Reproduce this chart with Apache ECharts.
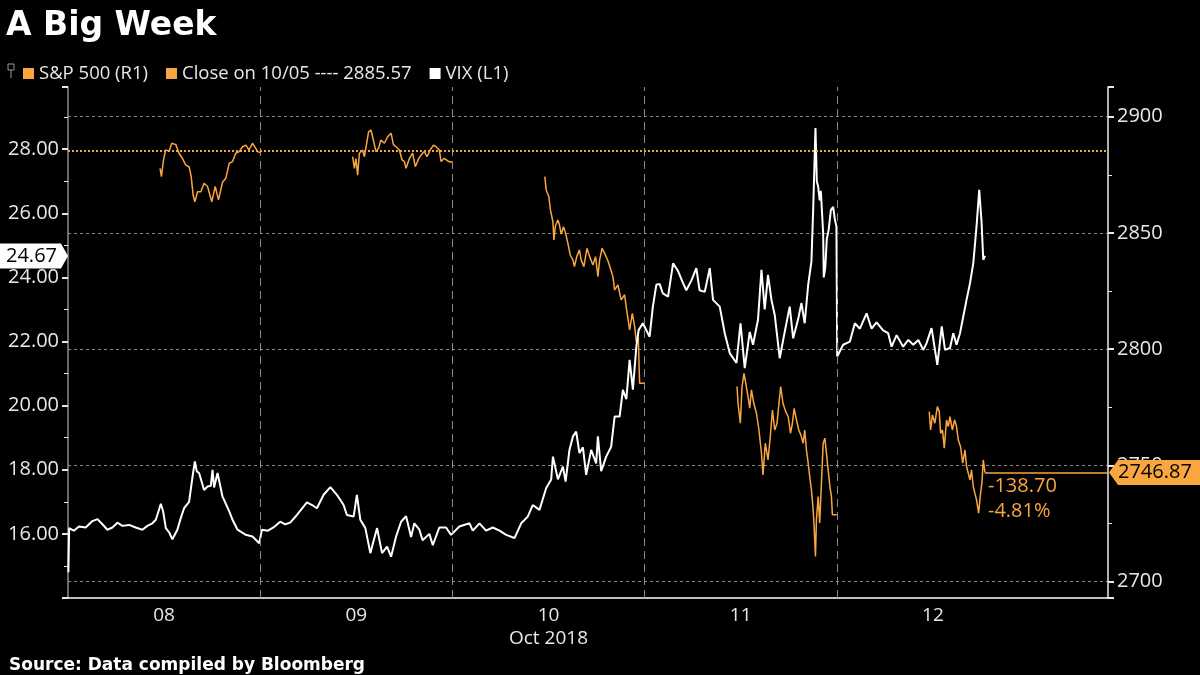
<!DOCTYPE html>
<html><head><meta charset="utf-8">
<script src="https://cdn.jsdelivr.net/npm/echarts@6/dist/echarts.min.js"></script>
<style>html,body{margin:0;padding:0;background:#000;}#c{width:1200px;height:675px;}</style>
</head><body><div id="c"></div>
<script>
// ---- categories / labels ----
const DAY_LABELS = ['08', '09', '10', '11', '12'];
const MONTH_LABEL = 'Oct 2018';
const CLOSE_1005 = 2885.57;

// ---- VIX (left axis), [fraction of day, value] ----
const vix08 = [[0.002,14.8],[0.006,16.18],[0.030,16.1],[0.057,16.23],[0.092,16.2],[0.127,16.40],[0.153,16.46],[0.179,16.3],[0.205,16.13],[0.231,16.2],[0.257,16.35],[0.283,16.25],[0.318,16.28],[0.352,16.2],[0.387,16.13],[0.413,16.25],[0.439,16.33],[0.457,16.44],[0.483,16.94],[0.495,16.7],[0.509,16.18],[0.526,16.05],[0.543,15.83],[0.569,16.13],[0.587,16.5],[0.604,16.8],[0.630,17.0],[0.648,17.79],[0.660,18.26],[0.670,17.95],[0.682,17.9],[0.708,17.37],[0.726,17.48],[0.743,17.5],[0.752,18.0],[0.760,17.45],[0.778,17.9],[0.804,17.16],[0.839,16.7],[0.856,16.44],[0.882,16.13],[0.925,15.97],[0.960,15.92],[0.995,15.71]];
const vix09 = [[0.009,16.13],[0.040,16.1],[0.069,16.2],[0.104,16.38],[0.130,16.3],[0.156,16.35],[0.191,16.59],[0.243,16.98],[0.270,16.9],[0.295,16.8],[0.330,17.22],[0.365,17.46],[0.399,17.22],[0.434,16.9],[0.451,16.59],[0.486,16.54],[0.503,17.22],[0.521,16.44],[0.547,16.18],[0.573,15.4],[0.608,16.18],[0.634,15.4],[0.660,15.6],[0.681,15.29],[0.707,15.92],[0.733,16.38],[0.759,16.55],[0.785,15.9],[0.802,16.33],[0.828,16.13],[0.845,15.8],[0.880,16.0],[0.898,15.65],[0.932,16.2],[0.967,16.2],[0.993,15.97]];
const vix10 = [[0.002,16.0],[0.036,16.23],[0.089,16.33],[0.106,16.1],[0.141,16.33],[0.175,16.1],[0.210,16.2],[0.245,16.1],[0.280,15.97],[0.323,15.87],[0.358,16.33],[0.392,16.54],[0.418,16.9],[0.453,16.75],[0.488,17.43],[0.514,17.7],[0.523,18.41],[0.549,17.7],[0.575,18.1],[0.589,17.63],[0.609,18.62],[0.627,19.04],[0.644,19.19],[0.661,18.52],[0.679,18.7],[0.696,17.84],[0.722,18.62],[0.748,18.2],[0.757,19.04],[0.774,17.96],[0.800,18.41],[0.826,18.72],[0.844,19.66],[0.870,19.66],[0.887,20.49],[0.905,20.2],[0.922,21.43],[0.939,20.5],[0.957,21.84],[0.969,22.36],[0.991,22.57]];
const vix11 = [[0.000,22.57],[0.026,22.15],[0.043,23.09],[0.061,23.77],[0.078,23.8],[0.095,23.5],[0.122,23.4],[0.148,24.44],[0.174,24.2],[0.200,23.82],[0.217,23.6],[0.243,23.9],[0.269,24.29],[0.286,23.6],[0.313,23.55],[0.339,24.29],[0.356,23.3],[0.391,23.09],[0.417,22.26],[0.443,21.64],[0.478,21.33],[0.499,22.57],[0.521,21.17],[0.547,22.3],[0.564,21.9],[0.590,22.68],[0.608,24.24],[0.625,23.0],[0.642,24.08],[0.660,23.3],[0.677,22.83],[0.703,21.48],[0.729,22.3],[0.755,23.09],[0.773,22.1],[0.799,22.7],[0.816,23.2],[0.833,22.57],[0.851,23.77],[0.868,24.5],[0.877,26.1],[0.889,28.66],[0.896,27.0],[0.903,26.83],[0.911,26.4],[0.917,26.7],[0.929,25.38],[0.932,24.0],[0.940,24.3],[0.948,25.2],[0.958,25.5],[0.969,26.1],[0.981,26.2],[0.990,25.8],[0.998,25.6]];
const vix12 = [[0.002,21.53],[0.033,21.9],[0.068,22.0],[0.094,22.57],[0.120,22.4],[0.155,22.88],[0.181,22.4],[0.207,22.6],[0.241,22.35],[0.267,22.26],[0.285,21.84],[0.311,22.2],[0.345,21.84],[0.372,22.05],[0.398,21.9],[0.424,22.05],[0.450,21.74],[0.467,21.95],[0.493,22.42],[0.523,21.27],[0.546,22.47],[0.563,21.74],[0.589,21.8],[0.606,22.26],[0.623,21.9],[0.641,22.26],[0.658,22.78],[0.675,23.3],[0.693,23.82],[0.710,24.44],[0.727,25.59],[0.741,26.73],[0.753,25.74],[0.762,24.55],[0.771,24.67]];

// ---- S&P 500 (right axis), [fraction of day, value] ----
const spx08 = [[0.479,2877.8],[0.486,2874.2],[0.497,2881.4],[0.508,2885.7],[0.526,2885.2],[0.540,2888.6],[0.561,2888],[0.578,2884.3],[0.595,2882.1],[0.613,2879.2],[0.630,2878.5],[0.641,2874.2],[0.651,2866.3],[0.660,2863.4],[0.674,2867.7],[0.691,2867.7],[0.708,2871.4],[0.726,2870],[0.734,2870],[0.748,2863.4],[0.766,2870],[0.783,2864.2],[0.804,2871.8],[0.821,2873.5],[0.839,2880],[0.856,2880.7],[0.873,2884.3],[0.891,2885],[0.908,2887.1],[0.925,2887.8],[0.942,2885.7],[0.960,2888.6],[0.977,2886.4],[0.986,2885],[1.0,2884.6]];
const spx09 = [[0.481,2882.8],[0.490,2877.8],[0.498,2882],[0.507,2874.9],[0.516,2884.3],[0.533,2885.7],[0.542,2882.8],[0.554,2888.6],[0.564,2893.5],[0.576,2894.3],[0.589,2890],[0.602,2885],[0.616,2886.4],[0.628,2890],[0.646,2888.6],[0.663,2891.4],[0.681,2892.9],[0.693,2888],[0.707,2887.1],[0.724,2885.7],[0.738,2881.4],[0.750,2880.7],[0.759,2877.8],[0.776,2882],[0.793,2884.3],[0.807,2878.5],[0.825,2882.1],[0.837,2883.5],[0.854,2885],[0.868,2882.8],[0.885,2885.7],[0.901,2887.8],[0.915,2887.1],[0.932,2885.7],[0.941,2880.7],[0.958,2882.1],[0.967,2882.8],[0.981,2880.7],[1.0,2880.4]];
const spx10 = [[0.481,2874.2],[0.488,2868.5],[0.502,2865.6],[0.510,2859.9],[0.523,2854.8],[0.528,2847],[0.536,2853],[0.549,2855.6],[0.557,2853.5],[0.566,2849.5],[0.578,2852.7],[0.589,2849.8],[0.601,2845.5],[0.613,2840.5],[0.627,2838.4],[0.635,2835.5],[0.647,2839.8],[0.661,2842.7],[0.670,2838.4],[0.684,2835.5],[0.700,2843.4],[0.714,2839.8],[0.731,2836.2],[0.745,2839.8],[0.757,2831.2],[0.766,2838.4],[0.779,2843.4],[0.792,2841.2],[0.809,2838],[0.821,2835],[0.835,2831.2],[0.844,2825.5],[0.861,2827.6],[0.878,2821.2],[0.896,2823.4],[0.904,2818.3],[0.922,2808.3],[0.936,2815.4],[0.948,2809.8],[0.957,2803.2],[0.967,2805.3],[0.974,2785.3],[1.0,2785.3]];
const spx11 = [[0.481,2783.9],[0.486,2776.7],[0.498,2768.1],[0.507,2783.9],[0.517,2789.6],[0.526,2785.5],[0.538,2779.6],[0.547,2774.6],[0.556,2782.5],[0.568,2776.7],[0.582,2772.4],[0.595,2765.2],[0.608,2755.2],[0.616,2745.9],[0.628,2759.5],[0.642,2752.3],[0.654,2762.3],[0.665,2773.8],[0.677,2765.2],[0.689,2768.1],[0.700,2777.4],[0.708,2783.9],[0.720,2776.7],[0.734,2773.1],[0.747,2771],[0.759,2763.8],[0.769,2768.1],[0.778,2774.5],[0.790,2769.5],[0.802,2765.2],[0.813,2763.1],[0.825,2759.5],[0.833,2765.2],[0.842,2756.6],[0.851,2750.9],[0.859,2745.2],[0.868,2739.4],[0.877,2730.8],[0.882,2723.7],[0.889,2710.8],[0.894,2726.6],[0.903,2736.6],[0.911,2725.2],[0.920,2742.3],[0.929,2759.5],[0.938,2761.7],[0.946,2755.2],[0.955,2748],[0.964,2740.9],[0.972,2736.6],[0.977,2728.7],[1.0,2728.7]];
const spx12 = [[0.481,2773.1],[0.488,2765.2],[0.498,2771.7],[0.510,2768.1],[0.523,2775.3],[0.533,2773.1],[0.540,2763.8],[0.550,2765.2],[0.559,2757.4],[0.571,2769.5],[0.580,2766.7],[0.589,2770.9],[0.601,2765.2],[0.613,2769.5],[0.623,2766.7],[0.632,2760.9],[0.644,2758],[0.655,2750.9],[0.667,2756.6],[0.675,2749.5],[0.684,2748.8],[0.693,2743.7],[0.701,2748],[0.710,2740.9],[0.719,2740.9],[0.727,2735.1],[0.738,2729.4],[0.748,2738],[0.755,2742.3],[0.762,2752.3],[0.771,2746.87]];

// ---- build ----
const ORANGE = '#f9a640';
const FONT = '"Open Sans", "Noto Sans", sans-serif';
const X_MAX = 5.411;

function joinDays(days, breakBetween) {
  const out = [];
  days.forEach((d, i) => {
    d.forEach(p => out.push([i + p[0], p[1]]));
    if (breakBetween && i < days.length - 1) out.push([i + 1, '-']);
  });
  return out;
}
const vixDays = [vix08, vix09, vix10, vix11, vix12];
const spxDays = [spx08, spx09, spx10, spx11, spx12];
const vixData = joinDays(vixDays, false);
const spxData = joinDays(spxDays, true);
const vixLast = vixData[vixData.length - 1];
const spxLast = spxData[spxData.length - 1];
const chg = spxLast[1] - CLOSE_1005;
const chgPct = chg / CLOSE_1005 * 100;

const chart = echarts.init(document.getElementById('c'), null, {renderer: 'canvas'});
const isMult = (v, m) => Math.abs(v / m - Math.round(v / m)) < 1e-6;

chart.setOption({
  backgroundColor: '#000',
  animation: false,
  title: [
    {text: 'A Big Week', left: 1, top: 5, textStyle: {color: '#fff', fontSize: 33, fontWeight: 'bold', fontFamily: '"DejaVu Sans", sans-serif'}},
    {text: 'Source: Data compiled by Bloomberg', left: 4, top: 652, textStyle: {color: '#fff', fontSize: 17, fontWeight: 'bold', fontFamily: '"DejaVu Sans", sans-serif'}}
  ],
  legend: {
    left: 18, top: 59, icon: 'rect', itemWidth: 11, itemHeight: 11, itemGap: 18,
    textStyle: {color: '#e8e8e8', fontSize: 18.5, fontFamily: FONT},
    data: ['S&P 500 (R1)', 'Close on 10/05 ---- ' + CLOSE_1005.toFixed(2), 'VIX (L1)']
  },
  grid: {left: 68, right: 92, top: 87, bottom: 77},
  xAxis: {
    type: 'value', min: 0, max: X_MAX, interval: 0.5,
    axisLine: {show: true, lineStyle: {color: '#fff', width: 1.5}},
    axisTick: {show: false},
    splitLine: {show: false},
    axisLabel: {
      color: '#e8e8e8', fontSize: 19, fontFamily: FONT, margin: 6, lineHeight: 23,
      formatter: v => {
        const k = Math.round(v - 0.5);
        if (Math.abs(v - 0.5 - k) < 1e-6 && k >= 0 && k < DAY_LABELS.length) {
          return k === 2 ? DAY_LABELS[k] + '\n' + MONTH_LABEL : DAY_LABELS[k];
        }
        return '';
      }
    }
  },
  yAxis: [
    {
      type: 'value', position: 'left', min: 14, max: 29.94, interval: 2,
      axisLine: {show: true, lineStyle: {color: '#8c8c8c', width: 1.5}},
      axisTick: {show: true, length: 6, lineStyle: {color: '#e8e8e8', width: 2}},
      minorTick: {show: true, splitNumber: 2, length: 4, lineStyle: {color: '#e8e8e8'}},
      splitLine: {show: false},
      axisLabel: {color: '#e8e8e8', fontSize: 20, fontFamily: FONT, margin: 9,
        formatter: v => (isMult(v, 2) && v > 14.5 && v < 29) ? v.toFixed(2) : ''}
    },
    {
      type: 'value', position: 'right', min: 2692.9, max: 2912.8, splitNumber: 5,
      axisLine: {show: true, lineStyle: {color: '#e8e8e8', width: 1.5}},
      axisTick: {show: true, length: 6, lineStyle: {color: '#e8e8e8', width: 2}},
      minorTick: {show: true, splitNumber: 2, length: 4, lineStyle: {color: '#e8e8e8'}},
      splitLine: {show: true, showMinLine: false, showMaxLine: false, lineStyle: {color: '#8a8a8a', type: [3, 3], width: 1}},
      axisLabel: {color: '#e8e8e8', fontSize: 20, fontFamily: FONT, margin: 9,
        formatter: v => isMult(v, 50) ? String(Math.round(v)) : ''}
    }
  ],
  series: [
    {
      name: 'VIX (L1)', type: 'line', yAxisIndex: 0, data: vixData,
      showSymbol: false, symbol: 'none', color: '#fff',
      lineStyle: {color: '#fff', width: 2}, z: 3,
      markLine: {
        silent: true, symbol: ['none', 'none'], label: {show: false},
        lineStyle: {color: '#8a8a8a', type: [8, 5], width: 1},
        data: [{xAxis: 1}, {xAxis: 2}, {xAxis: 3}, {xAxis: 4}]
      }
    },
    {
      name: 'S&P 500 (R1)', type: 'line', yAxisIndex: 1, data: spxData,
      showSymbol: false, symbol: 'none', color: ORANGE, connectNulls: false,
      lineStyle: {color: ORANGE, width: 1.5}, z: 2,
      markLine: {
        silent: true, symbol: ['none', 'none'], label: {show: false},
        data: [
          {yAxis: CLOSE_1005, lineStyle: {color: ORANGE, type: [2, 2], width: 2}},
          [{coord: [spxLast[0], spxLast[1]], lineStyle: {color: ORANGE, type: 'solid', width: 1.5}},
           {coord: [X_MAX, spxLast[1]]}]
        ]
      }
    },
    {
      name: 'Close on 10/05 ---- ' + CLOSE_1005.toFixed(2), type: 'line', yAxisIndex: 1,
      data: [], color: ORANGE, showSymbol: false
    }
  ]
});

// ---- last-value tags, positioned through the axes ----
const xL = chart.convertToPixel({xAxisIndex: 0}, 0);
const xR = chart.convertToPixel({xAxisIndex: 0}, X_MAX);
const yV = chart.convertToPixel({yAxisIndex: 0}, vixLast[1]);
const yS = chart.convertToPixel({yAxisIndex: 1}, spxLast[1]);
const xS = chart.convertToPixel({xAxisIndex: 0}, spxLast[0]);
const h = 12.5;
chart.setOption({
  graphic: [
    {type: 'polygon', shape: {points: [[0, yV - h], [xL - 7, yV - h], [xL, yV], [xL - 7, yV + h], [0, yV + h]]}, style: {fill: '#fff'}, z: 100},
    {type: 'text', x: (xL - 7) / 2 + 1, y: yV, style: {text: vixLast[1].toFixed(2), fill: '#000', font: '20px ' + FONT, align: 'center', verticalAlign: 'middle', textAlign: 'center', textVerticalAlign: 'middle'}, z: 101},
    {type: 'polygon', shape: {points: [[xR + 1, yS], [xR + 10, yS - h], [1200, yS - h], [1200, yS + h], [xR + 10, yS + h]]}, style: {fill: ORANGE}, z: 100},
    {type: 'text', x: xR + 10, y: yS, style: {text: spxLast[1].toFixed(2), fill: '#000', font: '20px ' + FONT, align: 'left', verticalAlign: 'middle', textAlign: 'left', textVerticalAlign: 'middle'}, z: 101},
    {type: 'text', x: xS + 3, y: yS + 14, style: {text: chg.toFixed(2), fill: ORANGE, font: '20px ' + FONT, align: 'left', verticalAlign: 'middle', textAlign: 'left', textVerticalAlign: 'middle'}, z: 101},
    {type: 'text', x: xS + 3, y: yS + 39, style: {text: chgPct.toFixed(2) + '%', fill: ORANGE, font: '20px ' + FONT, align: 'left', verticalAlign: 'middle', textAlign: 'left', textVerticalAlign: 'middle'}, z: 101},
    {type: 'rect', shape: {x: 8, y: 64, width: 6, height: 6}, style: {fill: 'none', stroke: '#999', lineWidth: 1}, z: 100},
    {type: 'line', shape: {x1: 11, y1: 70, x2: 11, y2: 78}, style: {stroke: '#999', lineWidth: 1}, z: 100}
  ]
});
</script></body></html>
